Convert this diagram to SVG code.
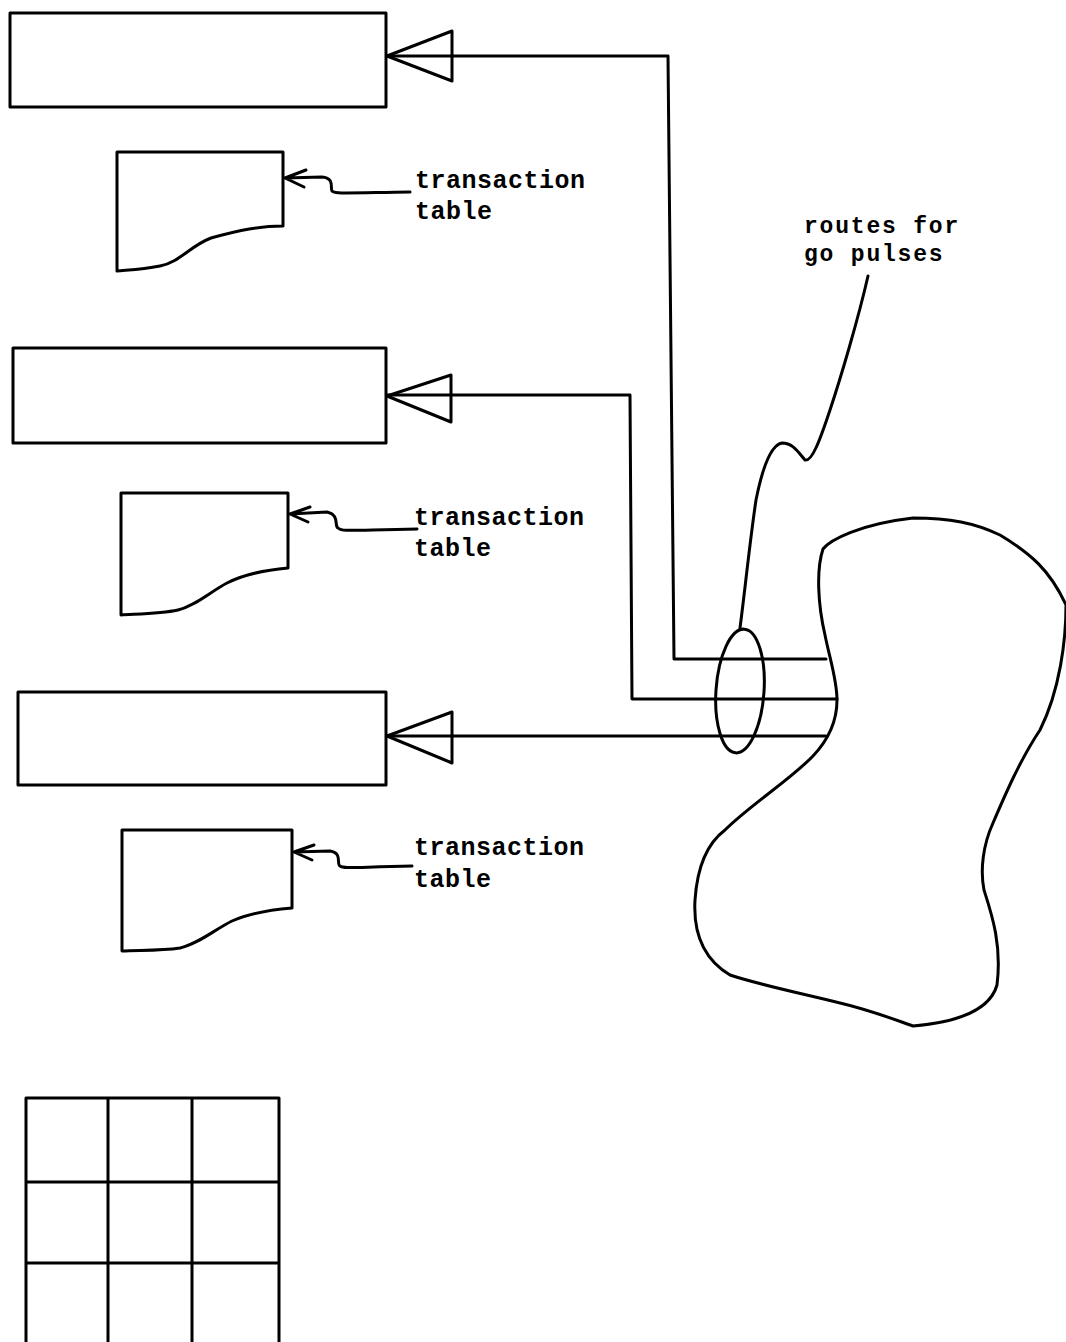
<svg xmlns="http://www.w3.org/2000/svg" width="1066" height="1342" viewBox="0 0 1066 1342">
<style>
.s{fill:none;stroke:#000;stroke-width:3;stroke-linejoin:round;stroke-linecap:round}
.t{font-family:"Liberation Mono","DejaVu Sans Mono",monospace;font-weight:bold;font-size:25px;letter-spacing:0.5px;fill:#000}
.r{font-size:23px;letter-spacing:1.8px}
</style>
<rect width="1066" height="1342" fill="#fff"/>
<g id="register1"><rect class="s" x="10" y="13" width="376" height="94"/></g>
<g id="register2"><rect class="s" x="13" y="348" width="373" height="95"/></g>
<g id="register3"><rect class="s" x="18" y="692" width="368" height="93"/></g>
<g id="table1">
<path class="s" d="M117,152 L283,152 L283,226 C260,226 240,230 211,238 C190,246 180,262 160,266 C140,270 125,270 117,271 Z"/>
<text class="t" x="415" y="188">transaction</text><text class="t" x="415" y="219">table</text>
</g>
<g id="table2">
<path class="s" d="M121,493 L288,493 L288,568 C265,570 245,574 227,583 C210,592 195,606 178,610 C160,614 135,614 121,615 Z"/>
<text class="t" x="414" y="525">transaction</text><text class="t" x="414" y="556">table</text>
</g>
<g id="table3">
<path class="s" d="M122,830 L292,830 L292,908 C268,910 250,913 232,921 C214,930 198,944 180,948 C160,951 138,950 122,951 Z"/>
<text class="t" x="414" y="855">transaction</text><text class="t" x="414" y="887">table</text>
</g>
<g id="routes-label">
<text class="t r" x="804" y="233">routes for</text><text class="t r" x="804" y="261">go pulses</text>
</g>
<g id="network">
<path class="s" d="M823,549 C830,540 860,524 913,518 C950,518 975,523 1000,535 C1030,553 1050,570 1066,605 C1066,640 1060,690 1040,730 C1020,760 1005,795 993,823 C983,845 980,870 984,890 C992,915 1002,945 997,985 C990,1010 960,1022 913,1026 C893,1019 870,1010 840,1003 C800,993 760,985 730,975 C705,960 693,935 695,900 C697,870 705,845 725,830 C750,805 790,780 813,756 C830,738 837,720 837,700 C837,680 830,660 825,635 C818,605 816,570 823,549 Z"/>
</g>
<g id="grid">
<path class="s" d="M26,1342 L26,1098 L279,1098 L279,1342 M108,1098 L108,1342 M192,1098 L192,1342 M26,1182 L279,1182 M26,1263 L279,1263"/>
</g>
<g id="connectors">
<path class="s" d="M387,56 L452,31 L452,81 Z"/>
<path class="s" d="M387,396 L451,375 L451,422 Z"/>
<path class="s" d="M387,736 L452,712 L452,763 Z"/>
<path class="s" d="M387,56 L668,56 L674,659 L826,659"/>
<path class="s" d="M387,395 L630,395 L632,699 L837,699"/>
<path class="s" d="M387,736 L826,736"/>
<path class="s" d="M285,178 L322,177 C335,178 330,188 332,191 C335,194 345,193 410,192 M285,178 L306,170 M285,178 L304,187"/>
<path class="s" d="M290,514 L327,512 C340,515 334,526 338,528 C342,532 352,530 417,529 M290,514 L310,507 M290,514 L308,522"/>
<path class="s" d="M294,852 L330,851 C343,853 336,864 340,866 C344,869 355,867 412,866 M294,852 L314,845 M294,852 L312,860"/>
<path class="s" d="M868,276 C858,320 840,380 830,410 C820,440 812,462 805,460 C798,452 793,443 782,443 C770,445 762,470 756,500 C750,540 745,590 740,628"/>
<ellipse class="s" cx="740" cy="691" rx="24" ry="62" transform="rotate(4 740 691)"/>
</g>
</svg>
